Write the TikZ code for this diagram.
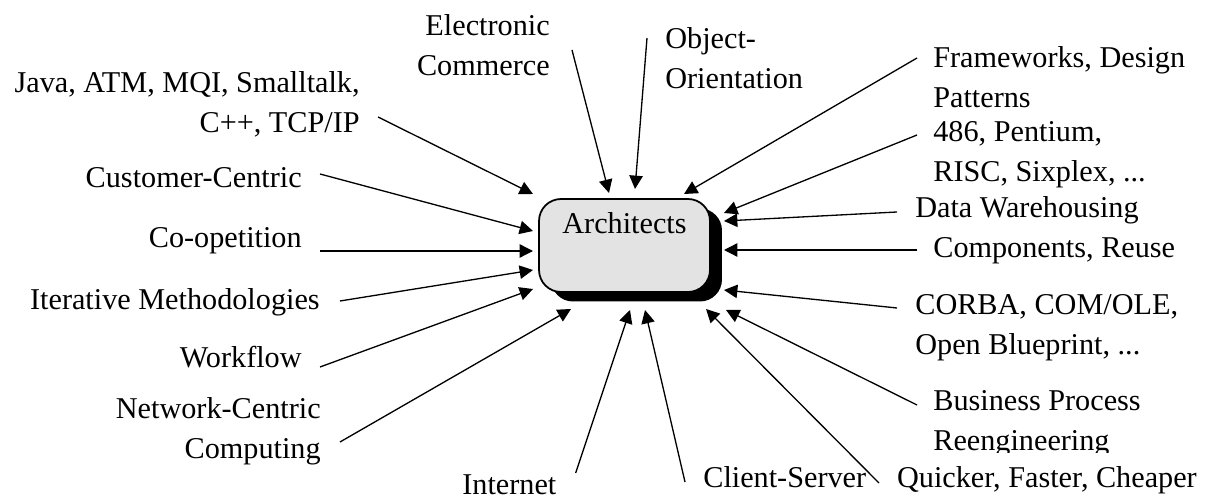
\documentclass[tikz,border=0pt]{standalone}
\usepackage{fontspec}
\setmainfont{Liberation Serif}
\usetikzlibrary{arrows.meta,shadows}
\tikzset{arch/.style={draw, rectangle, rounded corners=0.44cm, line width=1pt, fill=black!11, inner sep=0pt, minimum width=3.42cm, text height=0.70cm, text depth=1.16cm, font=\fontsize{17.2pt}{22.76pt}\selectfont, drop shadow={shadow xshift=0.24cm, shadow yshift=-0.19cm, fill=black, opacity=1}}}
\tikzset{topic/.style={inner sep=0pt, font=\fontsize{17.2pt}{22.76pt}\selectfont}}
\tikzset{line/.style={draw, line width=0.75pt, -{Triangle[length=7.6pt, width=7.6pt]}}}

\begin{document}
\begin{tikzpicture}[x=0.02cm, y=-0.02cm]
    \useasboundingbox (0,0) rectangle (1217,502);

    \node [arch] (arch) at (624.5,245.5) {Architects};

    % left side
    \node [topic, align=right, anchor=north east] (java) at (360,71) {Java, ATM, MQI, Smalltalk,\\C++, TCP/IP};
    \node [topic, anchor=base east] (cust) at (302,188) {Customer-Centric};
    \node [topic, anchor=base east] (coop) at (302,248) {Co-opetition};
    \node [topic, anchor=base east] (iter) at (320,310) {Iterative Methodologies};
    \node [topic, anchor=base east] (work) at (302,368) {Workflow};
    \node [topic, align=right, anchor=north east] (net) at (321,397) {Network-Centric\\Computing};

    % top
    \node [topic, align=right, anchor=north east] (elec) at (550,14) {Electronic\\Commerce};
    \node [topic, align=left, anchor=north west] (obj) at (665,27) {Object-\\Orientation};

    % right side
    \node [topic, align=left, anchor=north west] (frame) at (933,46) {Frameworks, Design\\Patterns};
    \node [topic, align=left, anchor=north west] (cpu) at (933,121) {486, Pentium,\\RISC, Sixplex, ...};
    \node [topic, anchor=base west] (dw) at (915,218) {Data Warehousing};
    \node [topic, anchor=base west] (comp) at (933,258) {Components, Reuse};
    \node [topic, align=left, anchor=north west] (corba) at (915,294) {CORBA, COM/OLE,\\Open Blueprint, ...};
    \node [topic, align=left, anchor=north west] (bpr) at (933,390) {Business Process\\Reengineering};

    % bottom
    \node [topic, anchor=base west, fill=white, inner xsep=1pt, inner ysep=0.28cm] (fast) at (895,488) {Quicker, Faster, Cheaper};
    \node [topic, anchor=base west] (cs) at (703,488) {Client-Server};
    \node [topic, anchor=base west] (inet) at (462,495) {Internet};

    % arrow tips round the box
    \coordinate (t-java) at (533,194);
    \coordinate (t-cust) at (533,231);
    \coordinate (t-coop) at (533,251);
    \coordinate (t-iter) at (533,270);
    \coordinate (t-work) at (533,289);
    \coordinate (t-net) at (571,309);
    \coordinate (t-elec) at (609,193);
    \coordinate (t-obj) at (635,189);
    \coordinate (t-frame) at (684,194);
    \coordinate (t-cpu) at (724,213);
    \coordinate (t-dw) at (724,221);
    \coordinate (t-comp) at (724,250);
    \coordinate (t-corba) at (724,290);
    \coordinate (t-bpr) at (726,310);
    \coordinate (t-fast) at (706,309);
    \coordinate (t-cs) at (645,310);
    \coordinate (t-inet) at (630,310);

    \path [line] ([shift={(18,46)}]java.north east) -- (t-java);
    \path [line] ([shift={(18,-14)}]cust.base east) -- (t-cust);
    \path [line] ([shift={(18,3)}]coop.base east) -- (t-coop);
    \path [line] ([shift={(20,-9)}]iter.base east) -- (t-iter);
    \path [line] ([shift={(18,-1)}]work.base east) -- (t-work);
    \path [line] ([shift={(19,45)}]net.north east) -- (t-net);
    \path [line] ([shift={(22,36)}]elec.north east) -- (t-elec);
    \path [line] ([shift={(-18,11)}]obj.north west) -- (t-obj);
    \path [line] ([shift={(-16,12)}]frame.north west) -- (t-frame);
    \path [line] ([shift={(-16,14)}]cpu.north west) -- (t-cpu);
    \path [line] ([shift={(-18,-6)}]dw.base west) -- (t-dw);
    \path [line] ([shift={(-16,-8)}]comp.base west) -- (t-comp);
    \path [line] ([shift={(-18,14)}]corba.north west) -- (t-corba);
    \path [line] ([shift={(-16,15)}]bpr.north west) -- (t-bpr);
    \path [line] ([shift={(-16,-5)}]fast.base west) -- (t-fast);
    \path [line] ([shift={(-18,-6)}]cs.base west) -- (t-cs);
    \path [line] ([shift={(19,-22)}]inet.base east) -- (t-inet);
\end{tikzpicture}
\end{document}
